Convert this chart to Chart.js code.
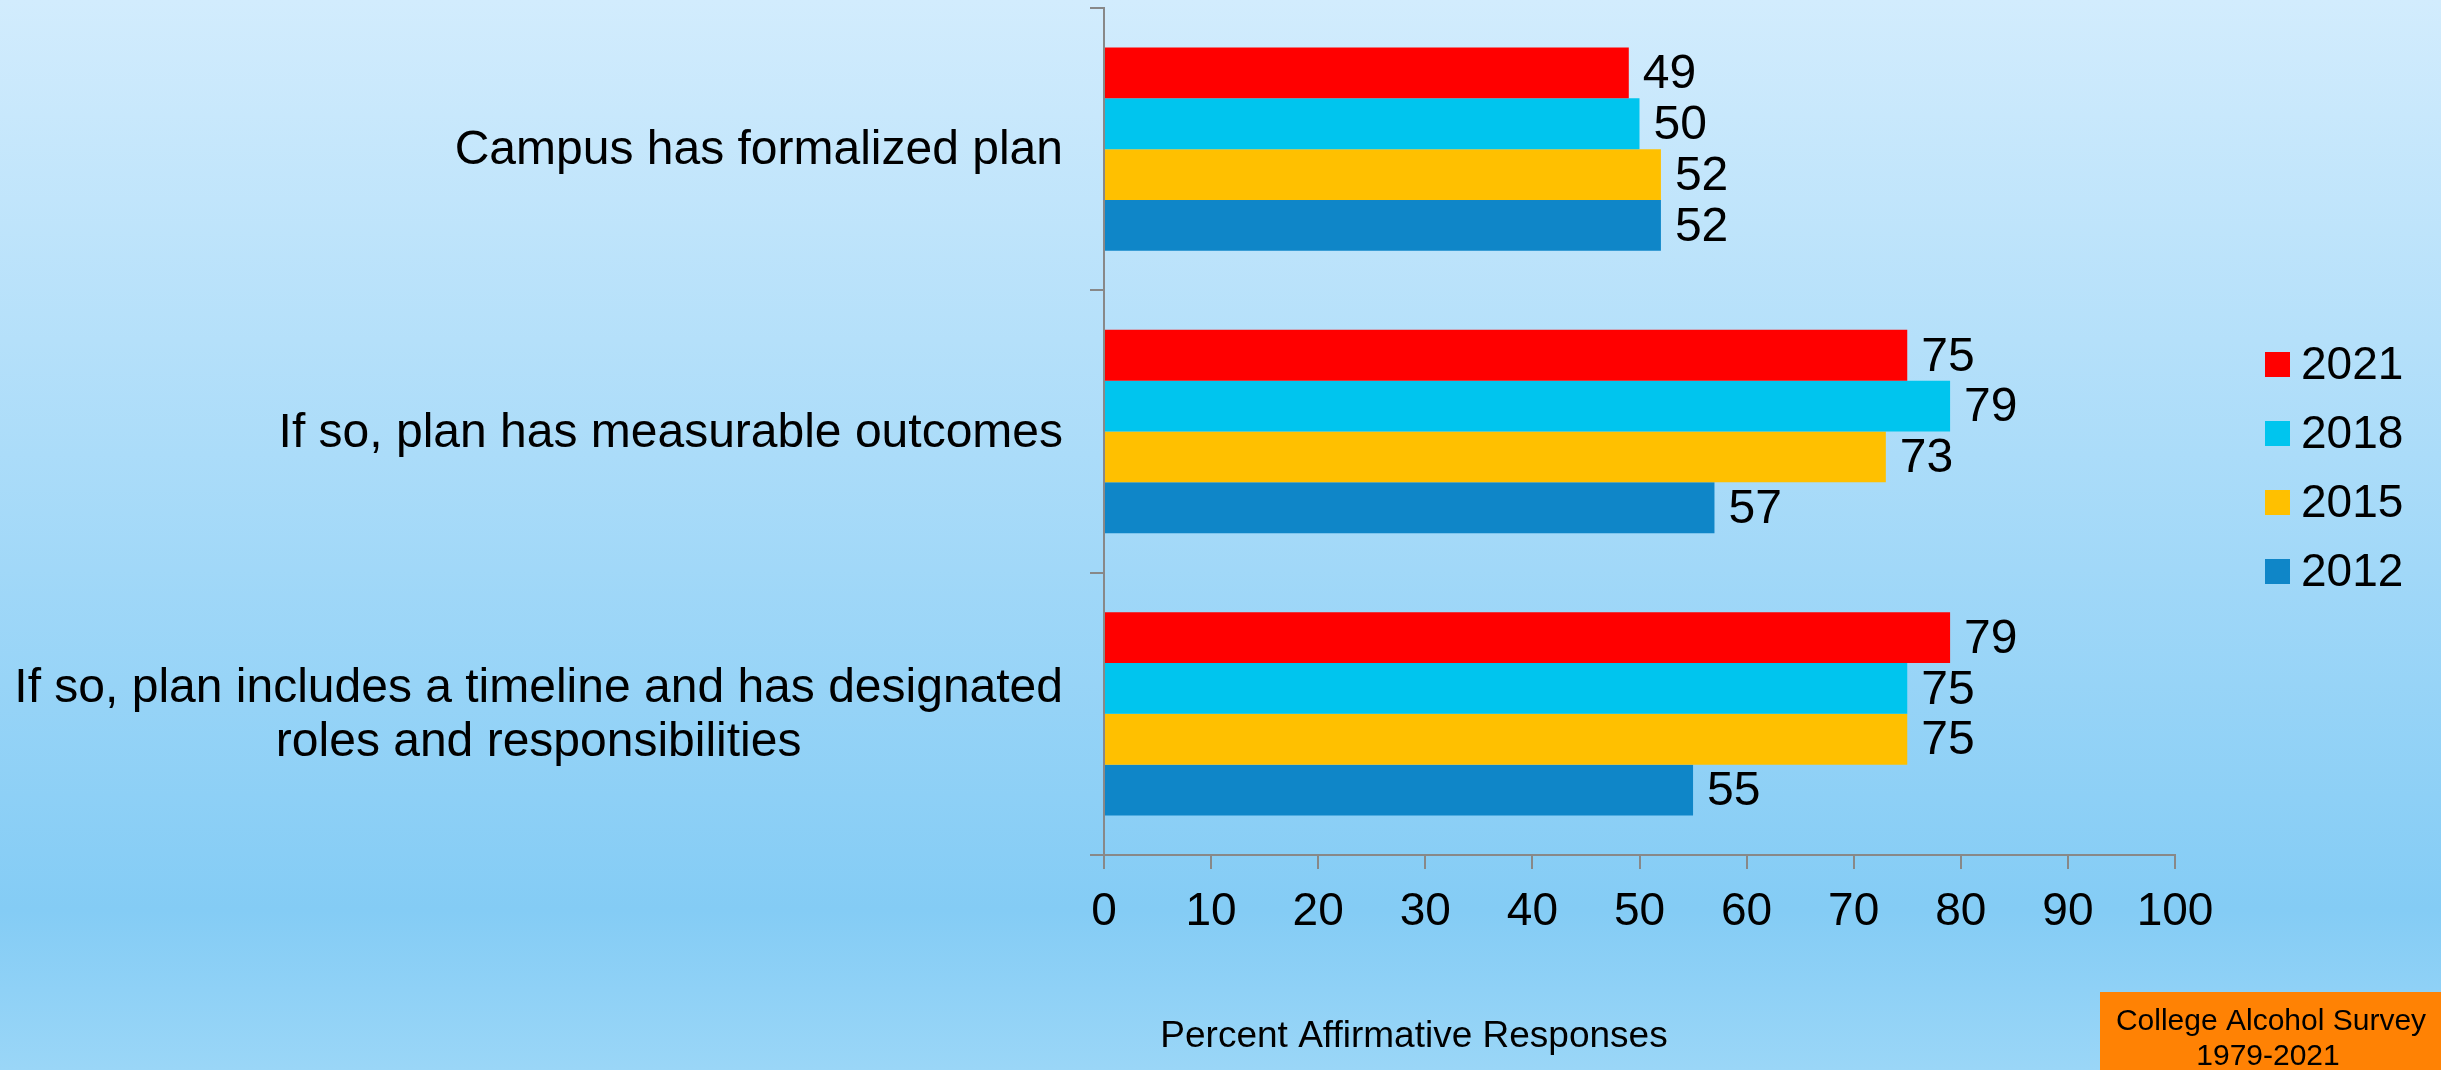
<!DOCTYPE html>
<html>
<head>
<meta charset="utf-8">
<script src="https://cdn.jsdelivr.net/npm/chart.js@4.4.1/dist/chart.umd.min.js"></script>
<style>
  html, body { margin: 0; padding: 0; background: #a9dcf8; overflow: hidden; }
  #wrap { width: 2441px; height: 1070px; position: relative; }
</style>
</head>
<body>
<div id="wrap"><canvas id="c" width="2441" height="1070"></canvas></div>
<script>
const categories = [
  ["Campus has formalized plan"],
  ["If so, plan has measurable outcomes"],
  ["If so, plan includes a timeline and has designated", "roles and responsibilities"]
];
const seriesNames = ["2021", "2018", "2015", "2012"];
const values2021 = [49, 75, 79];
const values2018 = [50, 79, 75];
const values2015 = [52, 73, 75];
const values2012 = [52, 57, 55];
const seriesColors = ["#FF0000", "#00C5EE", "#FFC000", "#0F86C8"];
const xMin = 0, xMax = 100, xStep = 10;
const axisTitle = "Percent Affirmative Responses";
const sourceLines = ["College Alcohol Survey", "1979-2021"];

const FONT = "'Liberation Sans', Arial, Helvetica, sans-serif";

const bgPlugin = {
  id: 'bg',
  beforeDraw(chart) {
    const ctx = chart.ctx;
    const g = ctx.createLinearGradient(0, 0, 0, chart.height);
    g.addColorStop(0, '#d2ecfd');
    g.addColorStop(0.85, '#84ccf5');
    g.addColorStop(1, '#9ad6f7');
    ctx.save();
    ctx.fillStyle = g;
    ctx.fillRect(0, 0, chart.width, chart.height);
    ctx.restore();
  }
};

const extrasPlugin = {
  id: 'extras',
  afterDraw(chart) {
    const ctx = chart.ctx;
    const yScale = chart.scales.y;
    ctx.save();
    // category labels
    ctx.fillStyle = '#000';
    ctx.font = '48px ' + FONT;
    ctx.textBaseline = 'middle';
    ctx.textAlign = 'center';
    const rightEdge = 1063;
    const lh = 54;
    categories.forEach((lines, i) => {
      const cy = yScale.getPixelForValue(i);
      const w = Math.max(...lines.map(l => ctx.measureText(l).width));
      const cx = rightEdge - w / 2;
      const y0 = cy - (lines.length - 1) * lh / 2;
      lines.forEach((l, k) => ctx.fillText(l, cx, y0 + k * lh + 2));
    });
    // value labels
    ctx.textAlign = 'left';
    chart.data.datasets.forEach((ds, di) => {
      const meta = chart.getDatasetMeta(di);
      meta.data.forEach((bar, i) => {
        ctx.fillText(String(ds.data[i]), bar.x + 14, bar.y + 2);
      });
    });
    // legend
    ctx.font = '46px ' + FONT;
    const legendY = [364, 433, 502, 571];
    seriesNames.forEach((n, i) => {
      ctx.fillStyle = seriesColors[i];
      ctx.fillRect(2265, legendY[i] - 12, 25, 25);
      ctx.fillStyle = '#000';
      ctx.fillText(n, 2301, legendY[i] + 2);
    });
    // axis title
    ctx.font = '37px ' + FONT;
    ctx.textAlign = 'center';
    ctx.fillText(axisTitle, 1414, 1037);
    // source box
    ctx.fillStyle = '#FF8204';
    ctx.fillRect(2100, 992, 341, 78);
    ctx.fillStyle = '#000';
    ctx.font = '30px ' + FONT;
    ctx.fillText(sourceLines[0], 2271, 1022);
    ctx.fillText(sourceLines[1], 2268, 1057);
    ctx.restore();
  }
};

const datasetsValues = [values2021, values2018, values2015, values2012];

new Chart(document.getElementById('c'), {
  type: 'bar',
  data: {
    labels: categories.map(c => c.join(' ')),
    datasets: seriesNames.map((n, i) => ({
      label: n,
      data: datasetsValues[i],
      backgroundColor: seriesColors[i],
      borderWidth: 0,
      categoryPercentage: 0.72,
      barPercentage: 1.0
    }))
  },
  options: {
    indexAxis: 'y',
    responsive: false,
    animation: false,
    devicePixelRatio: 1,
    layout: { padding: { top: 8, right: 266, bottom: 130, left: 0 } },
    plugins: { legend: { display: false }, tooltip: { enabled: false } },
    scales: {
      x: {
        min: xMin, max: xMax,
        ticks: { stepSize: xStep, color: '#000', font: { family: FONT, size: 46 }, padding: 16, maxRotation: 0 },
        grid: { drawOnChartArea: false, drawTicks: true, tickLength: 14, color: '#888', lineWidth: 2 },
        border: { display: true, color: '#888', width: 2 },
        afterFit(s) { s.height = 85; }
      },
      y: {
        ticks: { display: false },
        grid: { drawOnChartArea: false, drawTicks: true, tickLength: 14, color: '#888', lineWidth: 2, offset: true },
        border: { display: true, color: '#888', width: 2 },
        afterFit(s) { s.width = 1104; }
      }
    }
  },
  plugins: [bgPlugin, extrasPlugin]
});
</script>
</body>
</html>
